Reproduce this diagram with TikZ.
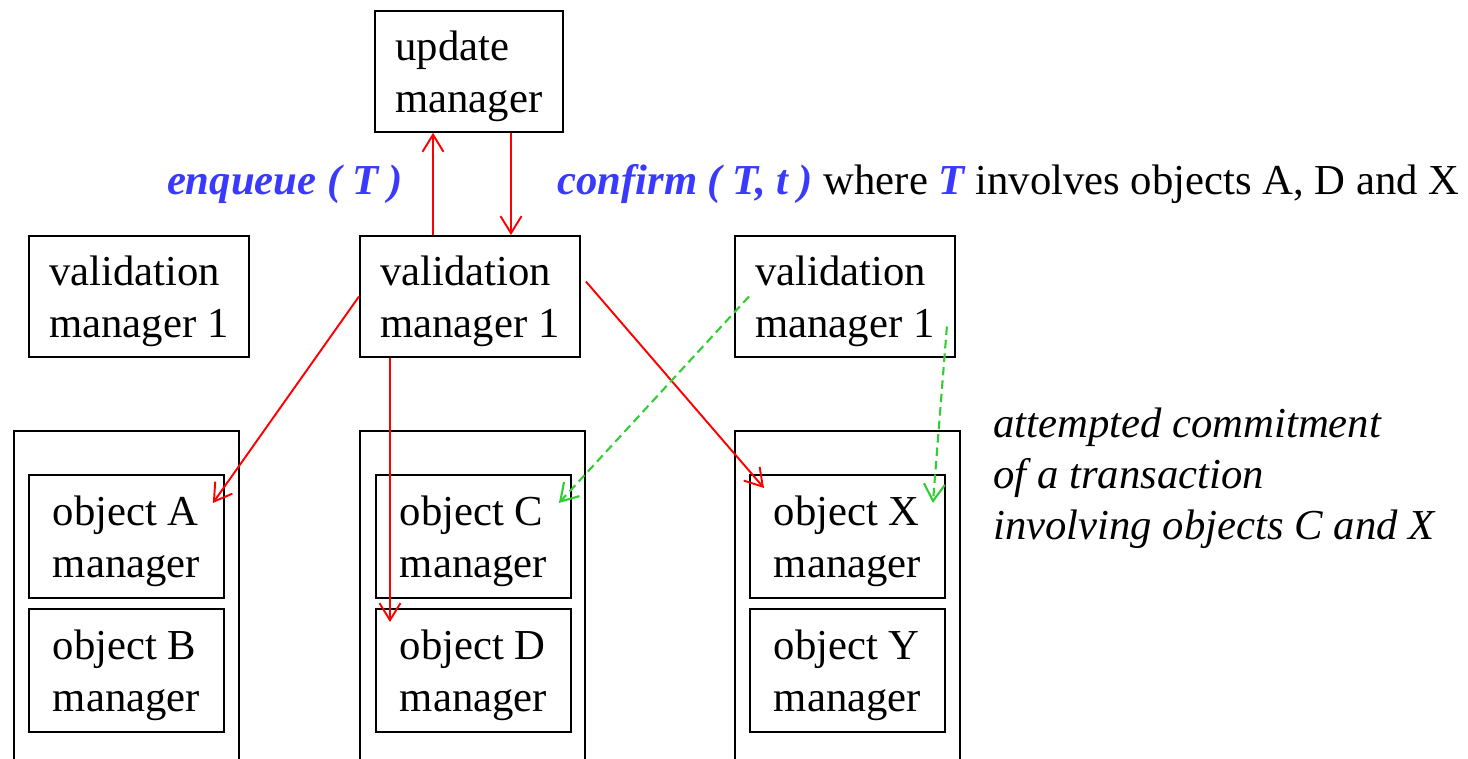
\documentclass[tikz,border=0pt]{standalone}
\usepackage{fontspec}
\setmainfont{LiberationSerif}[Extension=.ttf, UprightFont=*-Regular,
  BoldFont=*-Bold, ItalicFont=*-Italic, BoldItalicFont=*-BoldItalic]
\usetikzlibrary{arrows.meta,calc}
\definecolor{callblue}{RGB}{58,58,255}
\definecolor{trygreen}{RGB}{50,205,50}
\begin{document}
\begin{tikzpicture}[x=0.02cm, y=-0.02cm,
    >={Straight Barb[length=3.4mm,width=4.2mm]},
    every node/.style={font=\fontsize{24.3}{29.5}\selectfont},
    box/.style={draw, line width=1.1pt, align=left, inner sep=0pt, text depth=0pt, anchor=north west},
    mgr/.style={box, minimum width=4.4cm, minimum height=2.42cm},
    obj/.style={box, minimum width=3.9cm, minimum height=2.46cm},
    site/.style={box, minimum width=4.5cm, minimum height=7.2cm},
    msg/.style={->, red, line width=1.1pt},
    try/.style={->, trygreen, line width=1.2pt, dash pattern=on 0.17cm off 0.1cm},
    call/.style={text=callblue, font=\fontsize{24.3}{29.5}\selectfont\bfseries\itshape}]
  % Marco
  \useasboundingbox (0,0) rectangle (1468,758);

  % Gestor de actualizaciones
  \node[box, minimum width=3.76cm, minimum height=2.42cm] (um) at (374,10) {update\\manager};

  % Gestores de validacion
  \node[mgr] (vm1) at (28,235) {validation\\manager 1};
  \node[mgr] (vm2) at (359,235) {validation\\manager 1};
  \node[mgr] (vm3) at (734,235) {validation\\manager 1};

  % Sitios (abiertos por abajo)
  \node[site] (s1) at (13,430) {};
  \node[site] (s2) at (359,430) {};
  \node[site] (s3) at (734,430) {};

  % Gestores de objetos
  \node[obj] (oA) at (28,474) {object A\\manager};
  \node[obj] (oB) at (28,608) {object B\\manager};
  \node[obj] (oC) at (375,474) {object C\\manager};
  \node[obj] (oD) at (375,608) {object D\\manager};
  \node[obj] (oX) at (749,474) {object X\\manager};
  \node[obj] (oY) at (749,608) {object Y\\manager};

  % Mensajes
  \node[call] (enq) at (285,184) {enqueue ( T )};
  \node[anchor=west, inner sep=0pt] (conf) at (557,184)
    {\textcolor{callblue}{\bfseries\itshape confirm ( T, t )} where
     \textcolor{callblue}{\bfseries\itshape T} involves objects A, D and X};
  \node[anchor=west, align=left, inner sep=0pt, font=\fontsize{24.3}{29}\selectfont\itshape]
    (note) at (993,478) {attempted commitment\\of a transaction\\involving objects C and X};

  % Flechas rojas
  \draw[msg] ($(vm2.north west)+(74,0)$) -- ($(um.south west)+(59,0)$);
  \draw[msg] ($(um.south west)+(137,0)$) -- ($(vm2.north west)+(152,0)$);
  \draw[msg] (vm2.west) -- ($(oA.north east)+(-12,29)$);
  \draw[msg] ($(vm2.south west)+(31,0)$) -- ($(oD.north west)+(15,14)$);
  \draw[msg] ($(vm2.east)+(5,-15)$) -- ($(oX.north west)+(15,14)$);

  % Flechas verdes (intento)
  \draw[try] ($(vm3.west)+(15,0)$) -- ($(oC.north east)+(-13,29)$);
  \draw[try] ($(vm3.east)+(-9,30)$) -- ($(oX.north east)+(-13,29)$);
\end{tikzpicture}
\end{document}
